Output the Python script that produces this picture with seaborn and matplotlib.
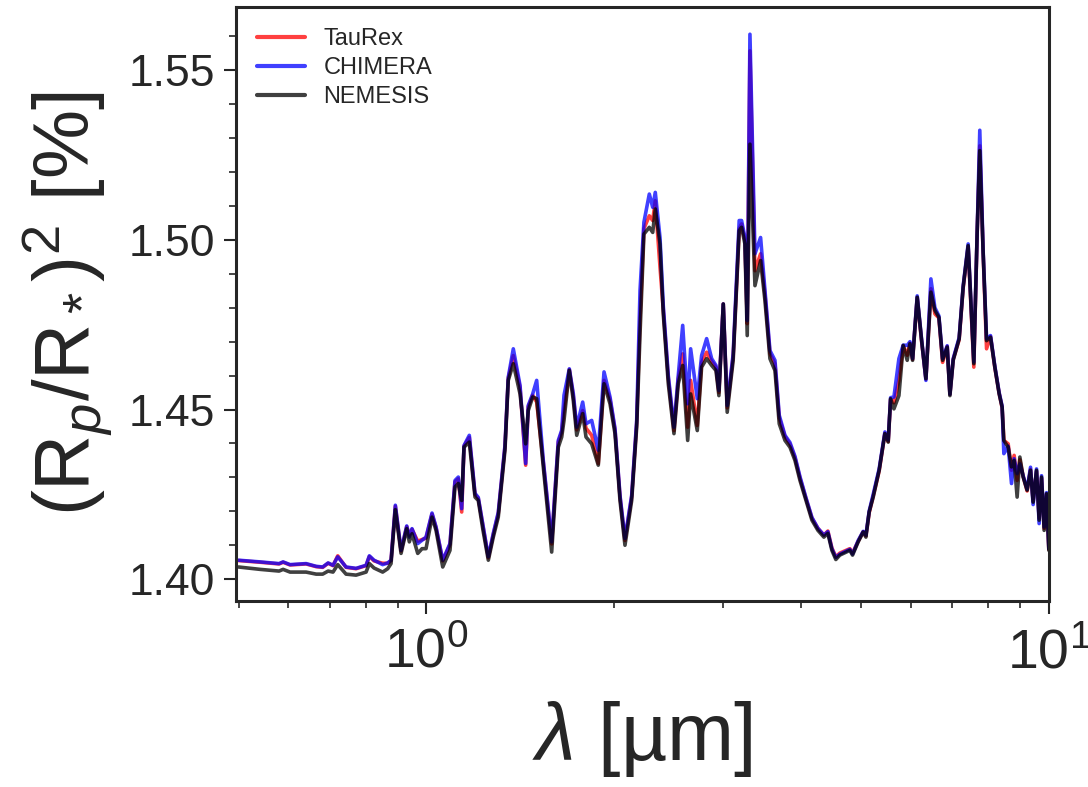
import pandas as pd
import numpy as np
import seaborn as sns
import matplotlib
matplotlib.use('Agg')
import matplotlib.pyplot as plt
from matplotlib.ticker import MultipleLocator, FormatStrFormatter

# wavelength grid [um]
wavelength = [
    0.500, 0.5415, 0.5808, 0.5895, 0.6049, 0.6418, 0.6662, 0.6825, 0.6963, 0.7090,
    0.7215, 0.7440, 0.7720, 0.8012, 0.8110, 0.8251, 0.8519, 0.8680, 0.8787, 0.8928,
    0.9118, 0.9312, 0.9401, 0.9495, 0.9698, 0.9854, 1.000, 1.0224, 1.0377, 1.0637,
    1.0926, 1.1131, 1.1268, 1.1410, 1.1508, 1.1735, 1.1985, 1.2131, 1.2345, 1.259,
    1.2823, 1.3062, 1.3389, 1.3553, 1.3808, 1.4156, 1.4454, 1.4593, 1.4834, 1.5055,
    1.5427, 1.5913, 1.6307, 1.6514, 1.6655, 1.6985, 1.7237, 1.7457, 1.7846, 1.8066,
    1.8450, 1.8905, 1.9311, 1.9743, 2.011, 2.0485, 2.0866, 2.139, 2.179, 2.206,
    2.238, 2.283, 2.312, 2.334, 2.375, 2.404, 2.449, 2.501, 2.541, 2.583,
    2.631, 2.660, 2.726, 2.770, 2.822, 2.875, 2.921, 2.953, 3.001, 3.045,
    3.113, 3.183, 3.211, 3.251, 3.279, 3.312, 3.374, 3.445, 3.501, 3.566,
    3.633, 3.691, 3.770, 3.840, 3.912, 3.985, 4.074, 4.165, 4.258, 4.353,
    4.418, 4.484, 4.550, 4.618, 4.792, 4.840, 4.942, 5.034, 5.085, 5.147,
    5.224, 5.341, 5.455, 5.522, 5.571, 5.640, 5.745, 5.837, 5.924, 5.984,
    6.043, 6.147, 6.248, 6.348, 6.466, 6.562, 6.660, 6.752, 6.868, 6.937,
    7.022, 7.178, 7.285, 7.421, 7.578, 7.671, 7.747, 7.842, 7.943, 8.061,
    8.190, 8.322, 8.414, 8.468, 8.604, 8.711, 8.796, 8.894, 8.984, 9.094,
    9.229, 9.346, 9.436, 9.555, 9.648, 9.734, 9.828, 9.916, 10.0]

taurex = [
    1.4055, 1.4050, 1.4045, 1.4050, 1.4042, 1.4045, 1.4037, 1.4035, 1.4047, 1.4040,
    1.4069, 1.4035, 1.4031, 1.4040, 1.4067, 1.4054, 1.4047, 1.4047, 1.4055, 1.4215,
    1.4083, 1.4155, 1.4129, 1.4147, 1.4112, 1.4117, 1.4121, 1.4192, 1.4152, 1.4054,
    1.4102, 1.4287, 1.4296, 1.4198, 1.4392, 1.4418, 1.4250, 1.4238, 1.4155, 1.4063,
    1.4132, 1.4193, 1.4390, 1.4592, 1.4659, 1.4565, 1.4336, 1.4508, 1.4542, 1.4522,
    1.4345, 1.4104, 1.4404, 1.4434, 1.4497, 1.4618, 1.4540, 1.4440, 1.4497, 1.4445,
    1.4424, 1.4341, 1.4586, 1.4530, 1.4440, 1.4243, 1.4114, 1.4243, 1.4460, 1.4768,
    1.5033, 1.5071, 1.5057, 1.5115, 1.4920, 1.4795, 1.4592, 1.4438, 1.4590, 1.4664,
    1.4448, 1.4586, 1.4453, 1.4639, 1.4669, 1.4642, 1.4625, 1.4550, 1.4811, 1.4505,
    1.4657, 1.5033, 1.5047, 1.4998, 1.4753, 1.5557, 1.4909, 1.4959, 1.4840, 1.4665,
    1.4635, 1.4475, 1.4420, 1.4398, 1.4358, 1.4298, 1.4238, 1.4180, 1.4150, 1.4130,
    1.4142, 1.4092, 1.4066, 1.4077, 1.4090, 1.4077, 1.4112, 1.4140, 1.4128, 1.4196,
    1.4245, 1.4320, 1.4430, 1.4406, 1.4530, 1.4520, 1.4586, 1.4688, 1.4660, 1.4696,
    1.4648, 1.4830, 1.4700, 1.4590, 1.4856, 1.4782, 1.4770, 1.4639, 1.4686, 1.4545,
    1.4648, 1.4706, 1.4858, 1.4980, 1.4625, 1.5015, 1.5277, 1.4966, 1.4679, 1.4715,
    1.4624, 1.4548, 1.4505, 1.4409, 1.4399, 1.4321, 1.4365, 1.4291, 1.4352, 1.4303,
    1.4260, 1.4324, 1.4230, 1.4318, 1.4180, 1.4298, 1.4150, 1.4250, 1.4088]

chimera = [
    1.4056, 1.4051, 1.4046, 1.4051, 1.4043, 1.4046, 1.4038, 1.4036, 1.4048, 1.4041,
    1.4066, 1.4036, 1.4032, 1.4041, 1.4069, 1.4056, 1.4043, 1.4048, 1.4056, 1.4218,
    1.4085, 1.4157, 1.4124, 1.4149, 1.4105, 1.4115, 1.4124, 1.4195, 1.4154, 1.4056,
    1.4105, 1.4291, 1.4301, 1.4208, 1.4394, 1.4424, 1.4253, 1.4241, 1.4159, 1.4066,
    1.4135, 1.4197, 1.4394, 1.4595, 1.4679, 1.4571, 1.4341, 1.4512, 1.4546, 1.4586,
    1.4350, 1.4110, 1.4409, 1.4439, 1.4542, 1.4620, 1.4547, 1.4448, 1.4522, 1.4458,
    1.4468, 1.4380, 1.4611, 1.4537, 1.4444, 1.4247, 1.4120, 1.4247, 1.4468, 1.4851,
    1.5052, 1.5135, 1.5096, 1.5140, 1.5007, 1.4806, 1.4600, 1.4448, 1.4600, 1.4748,
    1.4517, 1.4679, 1.4532, 1.4659, 1.4709, 1.4650, 1.4630, 1.4556, 1.4811, 1.4512,
    1.4664, 1.5057, 1.5057, 1.5007, 1.4762, 1.5606, 1.4959, 1.5007, 1.4851, 1.4674,
    1.4645, 1.4483, 1.4424, 1.4403, 1.4362, 1.4302, 1.4240, 1.4182, 1.4150, 1.4130,
    1.4140, 1.4090, 1.4064, 1.4074, 1.4088, 1.4074, 1.4114, 1.4141, 1.4130, 1.4201,
    1.4250, 1.4326, 1.4434, 1.4410, 1.4535, 1.4537, 1.4650, 1.4690, 1.4689, 1.4700,
    1.4650, 1.4835, 1.4706, 1.4586, 1.4885, 1.4800, 1.4776, 1.4650, 1.4688, 1.4545,
    1.4650, 1.4712, 1.4864, 1.4988, 1.4640, 1.5022, 1.5323, 1.4972, 1.4708, 1.4718,
    1.4628, 1.4550, 1.4510, 1.4370, 1.4392, 1.4282, 1.4355, 1.4311, 1.4340, 1.4305,
    1.4265, 1.4330, 1.4220, 1.4325, 1.4164, 1.4305, 1.4154, 1.4255, 1.4090]

nemesis = [
    1.4036, 1.4029, 1.4024, 1.4029, 1.4021, 1.4021, 1.4015, 1.4015, 1.4024, 1.4021,
    1.4043, 1.4015, 1.4012, 1.4021, 1.4046, 1.4033, 1.4021, 1.4031, 1.4046, 1.4205,
    1.4076, 1.4149, 1.4110, 1.4134, 1.4076, 1.4090, 1.4090, 1.4183, 1.4144, 1.4036,
    1.4085, 1.4272, 1.4282, 1.4232, 1.4389, 1.4404, 1.4242, 1.4232, 1.4144, 1.4056,
    1.4124, 1.4183, 1.4380, 1.4586, 1.4635, 1.4546, 1.4399, 1.4497, 1.4537, 1.4532,
    1.4331, 1.4080, 1.4389, 1.4419, 1.4468, 1.4615, 1.4527, 1.4424, 1.4488, 1.4419,
    1.4399, 1.4336, 1.4576, 1.4517, 1.4429, 1.4232, 1.4100, 1.4232, 1.4448, 1.4723,
    1.5017, 1.5037, 1.5022, 1.5091, 1.4988, 1.4782, 1.4576, 1.4429, 1.4576, 1.4630,
    1.4409, 1.4546, 1.4438, 1.4625, 1.4650, 1.4630, 1.4615, 1.4541, 1.4811, 1.4492,
    1.4645, 1.5027, 1.5037, 1.4988, 1.4718, 1.5282, 1.4865, 1.4939, 1.4821, 1.4650,
    1.4615, 1.4458, 1.4409, 1.4389, 1.4350, 1.4291, 1.4232, 1.4174, 1.4144, 1.4124,
    1.4135, 1.4085, 1.4058, 1.4071, 1.4085, 1.4071, 1.4110, 1.4139, 1.4124, 1.4198,
    1.4242, 1.4321, 1.4429, 1.4404, 1.4532, 1.4502, 1.4541, 1.4689, 1.4645, 1.4694,
    1.4645, 1.4831, 1.4703, 1.4591, 1.4846, 1.4792, 1.4772, 1.4645, 1.4684, 1.4541,
    1.4645, 1.4708, 1.4860, 1.4983, 1.4635, 1.5017, 1.5263, 1.4968, 1.4703, 1.4713,
    1.4625, 1.4546, 1.4507, 1.4409, 1.4389, 1.4331, 1.4350, 1.4242, 1.4360, 1.4301,
    1.4262, 1.4321, 1.4227, 1.4321, 1.4174, 1.4301, 1.4144, 1.4252, 1.4085]

codes = ['TauRex', 'CHIMERA', 'NEMESIS']
colors = ['red', 'blue', 'black']

df = pd.concat([
    pd.DataFrame({'wl': wavelength, 'depth': vals, 'code': name})
    for name, vals in zip(codes, [taurex, chimera, nemesis])
])

sns.set_style('ticks')
plt.rcParams['font.family'] = ['Liberation Sans', 'DejaVu Sans']
plt.rcParams['mathtext.fontset'] = 'custom'
plt.rcParams['mathtext.rm'] = 'Liberation Sans'
plt.rcParams['mathtext.it'] = 'Liberation Sans:italic'

fig, ax = plt.subplots(figsize=(10.88, 7.87), dpi=100)
fig.subplots_adjust(left=0.217, right=0.964, bottom=0.236, top=0.991)

sns.lineplot(data=df, x='wl', y='depth', hue='code', hue_order=codes,
             palette=colors, estimator=None, sort=False, linewidth=2.6,
             alpha=0.75, ax=ax)

ax.set_xscale('log')
ax.set_xlim(0.4955, 10)
ax.set_ylim(1.3935, 1.5686)
ax.yaxis.set_major_locator(MultipleLocator(0.05))
ax.yaxis.set_minor_locator(MultipleLocator(0.01))
ax.yaxis.set_major_formatter(FormatStrFormatter('%.2f'))

for side in ['top', 'right', 'bottom', 'left']:
    ax.spines[side].set_visible(True)
    ax.spines[side].set_linewidth(2.2)
    ax.spines[side].set_color('#262626')

ax.tick_params(axis='both', which='major', length=9, width=1.5, color='#262626')
ax.tick_params(axis='both', which='minor', length=5, width=1.2, color='#262626')
ax.tick_params(axis='y', which='major', labelsize=32, pad=6)
ax.tick_params(axis='x', which='major', labelsize=40, pad=10)

ax.set_xlabel(r'$\lambda$ [µm]', fontsize=58, labelpad=14)
ax.set_ylabel(r'(R$_p$/R$_*$)$^2$ [%]', fontsize=56, labelpad=10)

leg = ax.legend(loc='upper left', frameon=False, fontsize=17, labelspacing=0.3)
for line in leg.get_lines():
    line.set_linewidth(3)

plt.savefig('out.png', dpi=100)
